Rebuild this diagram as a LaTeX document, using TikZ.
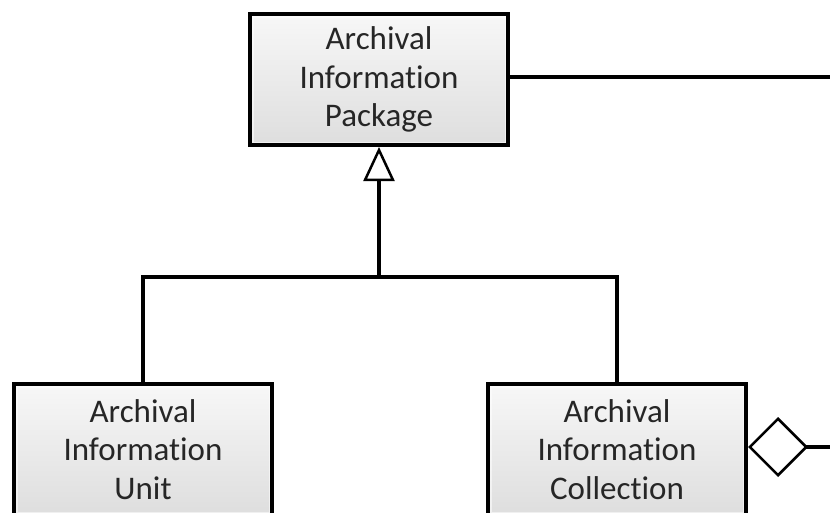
\documentclass[tikz,border=0pt]{standalone}
\usepackage{fontspec}
\setmainfont{Carlito}[RawFeature={-liga;-clig;-dlig;-calt}]
\usetikzlibrary{arrows.meta,calc}
\tikzset{
  x=1pt, y=-1pt,
  classbox/.style={draw=black, line width=4pt, minimum width=258pt, minimum height=131pt,
    inner sep=0pt, align=center, text=black!85,
    font=\fontsize{33}{38.5}\selectfont,
    top color=gray!6, bottom color=gray!26,
    path picture={\draw[white, line width=7pt, opacity=0.55]
      (path picture bounding box.north west) rectangle (path picture bounding box.south east);}},
  conn/.style={line width=4pt, draw=black},
}
\newcommand{\infotxt}{Informat\kern0pt ion}
\begin{document}
\begin{tikzpicture}
\useasboundingbox (0,0) rectangle (830,512);
\node[classbox] (aip) at (379,79.5) {Archival\\\infotxt\\Package};
\node[classbox] (aiu) at (143,449.5) {Archival\\\infotxt\\Unit};
\node[classbox] (aic) at (617,449.5) {Archival\\\infotxt\\Collection};
\coordinate (jn) at (379,277);
\coordinate (r1) at (832,77);
\coordinate (r2) at (832,447);
\draw[conn] (aiu.north) |- (jn) -| (aic.north);
\draw[conn, -{Triangle[open, length=34pt, width=31pt, line width=2.5pt, fill=white]}] (jn) -- (aip.south);
\draw[conn] (aip.east |- r1) -- (r1);
\draw[conn, {Diamond[open, length=60pt, width=60pt, line width=2.5pt, fill=white]}-] (aic.east |- r2) -- (r2);
\end{tikzpicture}
\end{document}
